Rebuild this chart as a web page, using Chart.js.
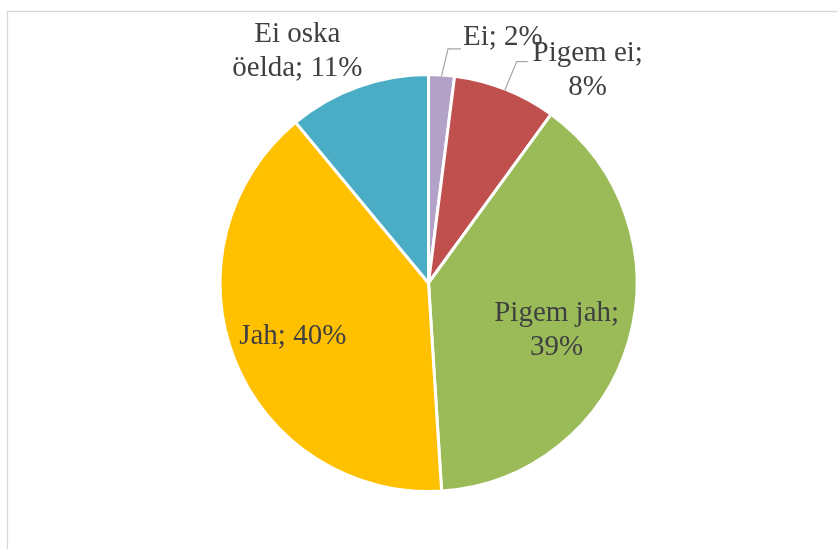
<!DOCTYPE html>
<html>
<head>
<meta charset="utf-8">
<script src="https://cdn.jsdelivr.net/npm/chart.js@4/dist/chart.umd.min.js"></script>
<style>
  html, body { margin: 0; padding: 0; background: #fff; }
  #wrap { position: relative; width: 838px; height: 549px; overflow: hidden; }
  canvas { display: block; }
</style>
</head>
<body>
<div id="wrap"><canvas id="c" width="838" height="549"></canvas></div>
<script>
// ---- data ----
const categories = ['Ei', 'Pigem ei', 'Pigem jah', 'Jah', 'Ei oska öelda'];
const percentages = [2, 8, 39, 40, 11];
const sliceColors = ['#B3A2C7', '#C0504D', '#9BBB59', '#FFC000', '#4BACC6'];
// words on first label line (0 = single line)
const firstLineWords = [0, 2, 2, 0, 2];

// label placement (styling/layout, derived from each arc's geometry)
const placement = [
  { kind: 'leader', elbow: [6.5, -27.5], run: 13, align: 'left', tx: 2, ty: -12 },
  { kind: 'leader', elbow: [12, -29], run: 11, align: 'center', tx: 60, ty: 9 },
  { kind: 'inside', r: 0.7, dx: -11, dy: 7 },
  { kind: 'inside', r: 0.7, dx: -1, dy: 0 },
  { kind: 'outside', dx: -61, dy: -37 }
];

const FONT = '29px "Liberation Serif", "Times New Roman", serif';
const LINE_H = 33.5;

function labelLines(i) {
  const words = (categories[i] + '; ' + percentages[i] + '%').split(' ');
  const n = firstLineWords[i];
  if (!n) return [words.join(' ')];
  return [words.slice(0, n).join(' '), words.slice(n).join(' ')];
}

const frame = {
  id: 'frame',
  beforeDraw(chart) {
    const ctx = chart.ctx;
    ctx.save();
    ctx.strokeStyle = '#d9d9d9';
    ctx.lineWidth = 1.3;
    ctx.strokeRect(7.5, 11.5, 860, 560);
    ctx.restore();
  }
};

const labels = {
  id: 'pieLabels',
  afterDatasetsDraw(chart) {
    const ctx = chart.ctx;
    const meta = chart.getDatasetMeta(0);
    ctx.save();
    ctx.font = FONT;
    ctx.fillStyle = '#404040';
    ctx.textBaseline = 'middle';
    meta.data.forEach((arc, i) => {
      const p = arc.getProps(['x', 'y', 'startAngle', 'endAngle', 'outerRadius'], true);
      const mid = (p.startAngle + p.endAngle) / 2;
      const cos = Math.cos(mid), sin = Math.sin(mid);
      const R = p.outerRadius - 1.5;
      const lines = labelLines(i);
      const pl = placement[i];
      let ax, ay, align = 'center';
      if (pl.kind === 'inside') {
        ax = p.x + cos * R * pl.r + pl.dx;
        ay = p.y + sin * R * pl.r + pl.dy;
      } else {
        const ox = p.x + cos * R, oy = p.y + sin * R;
        if (pl.kind === 'leader') {
          const ex = ox + pl.elbow[0], ey = oy + pl.elbow[1];
          ctx.save();
          ctx.strokeStyle = '#a6a6a6';
          ctx.lineWidth = 1.2;
          ctx.beginPath();
          ctx.moveTo(ox, oy);
          ctx.lineTo(ex, ey);
          ctx.lineTo(ex + pl.run, ey);
          ctx.stroke();
          ctx.restore();
          ax = ex + pl.run + pl.tx;
          ay = ey + pl.ty;
          align = pl.align;
        } else {
          ax = ox + pl.dx;
          ay = oy + pl.dy;
        }
      }
      ctx.textAlign = align;
      const top = ay - (lines.length - 1) * LINE_H / 2;
      lines.forEach((t, k) => ctx.fillText(t, ax, top + k * LINE_H));
    });
    ctx.restore();
  }
};

new Chart(document.getElementById('c'), {
  type: 'pie',
  data: {
    labels: categories,
    datasets: [{
      data: percentages,
      backgroundColor: sliceColors,
      borderColor: '#ffffff',
      borderWidth: 3
    }]
  },
  options: {
    responsive: false,
    animation: false,
    layout: { padding: { left: 218.5, right: 199.5, top: 73, bottom: 56 } },
    plugins: {
      legend: { display: false },
      tooltip: { enabled: false },
      title: { display: false }
    }
  },
  plugins: [frame, labels]
});
</script>
</body>
</html>
